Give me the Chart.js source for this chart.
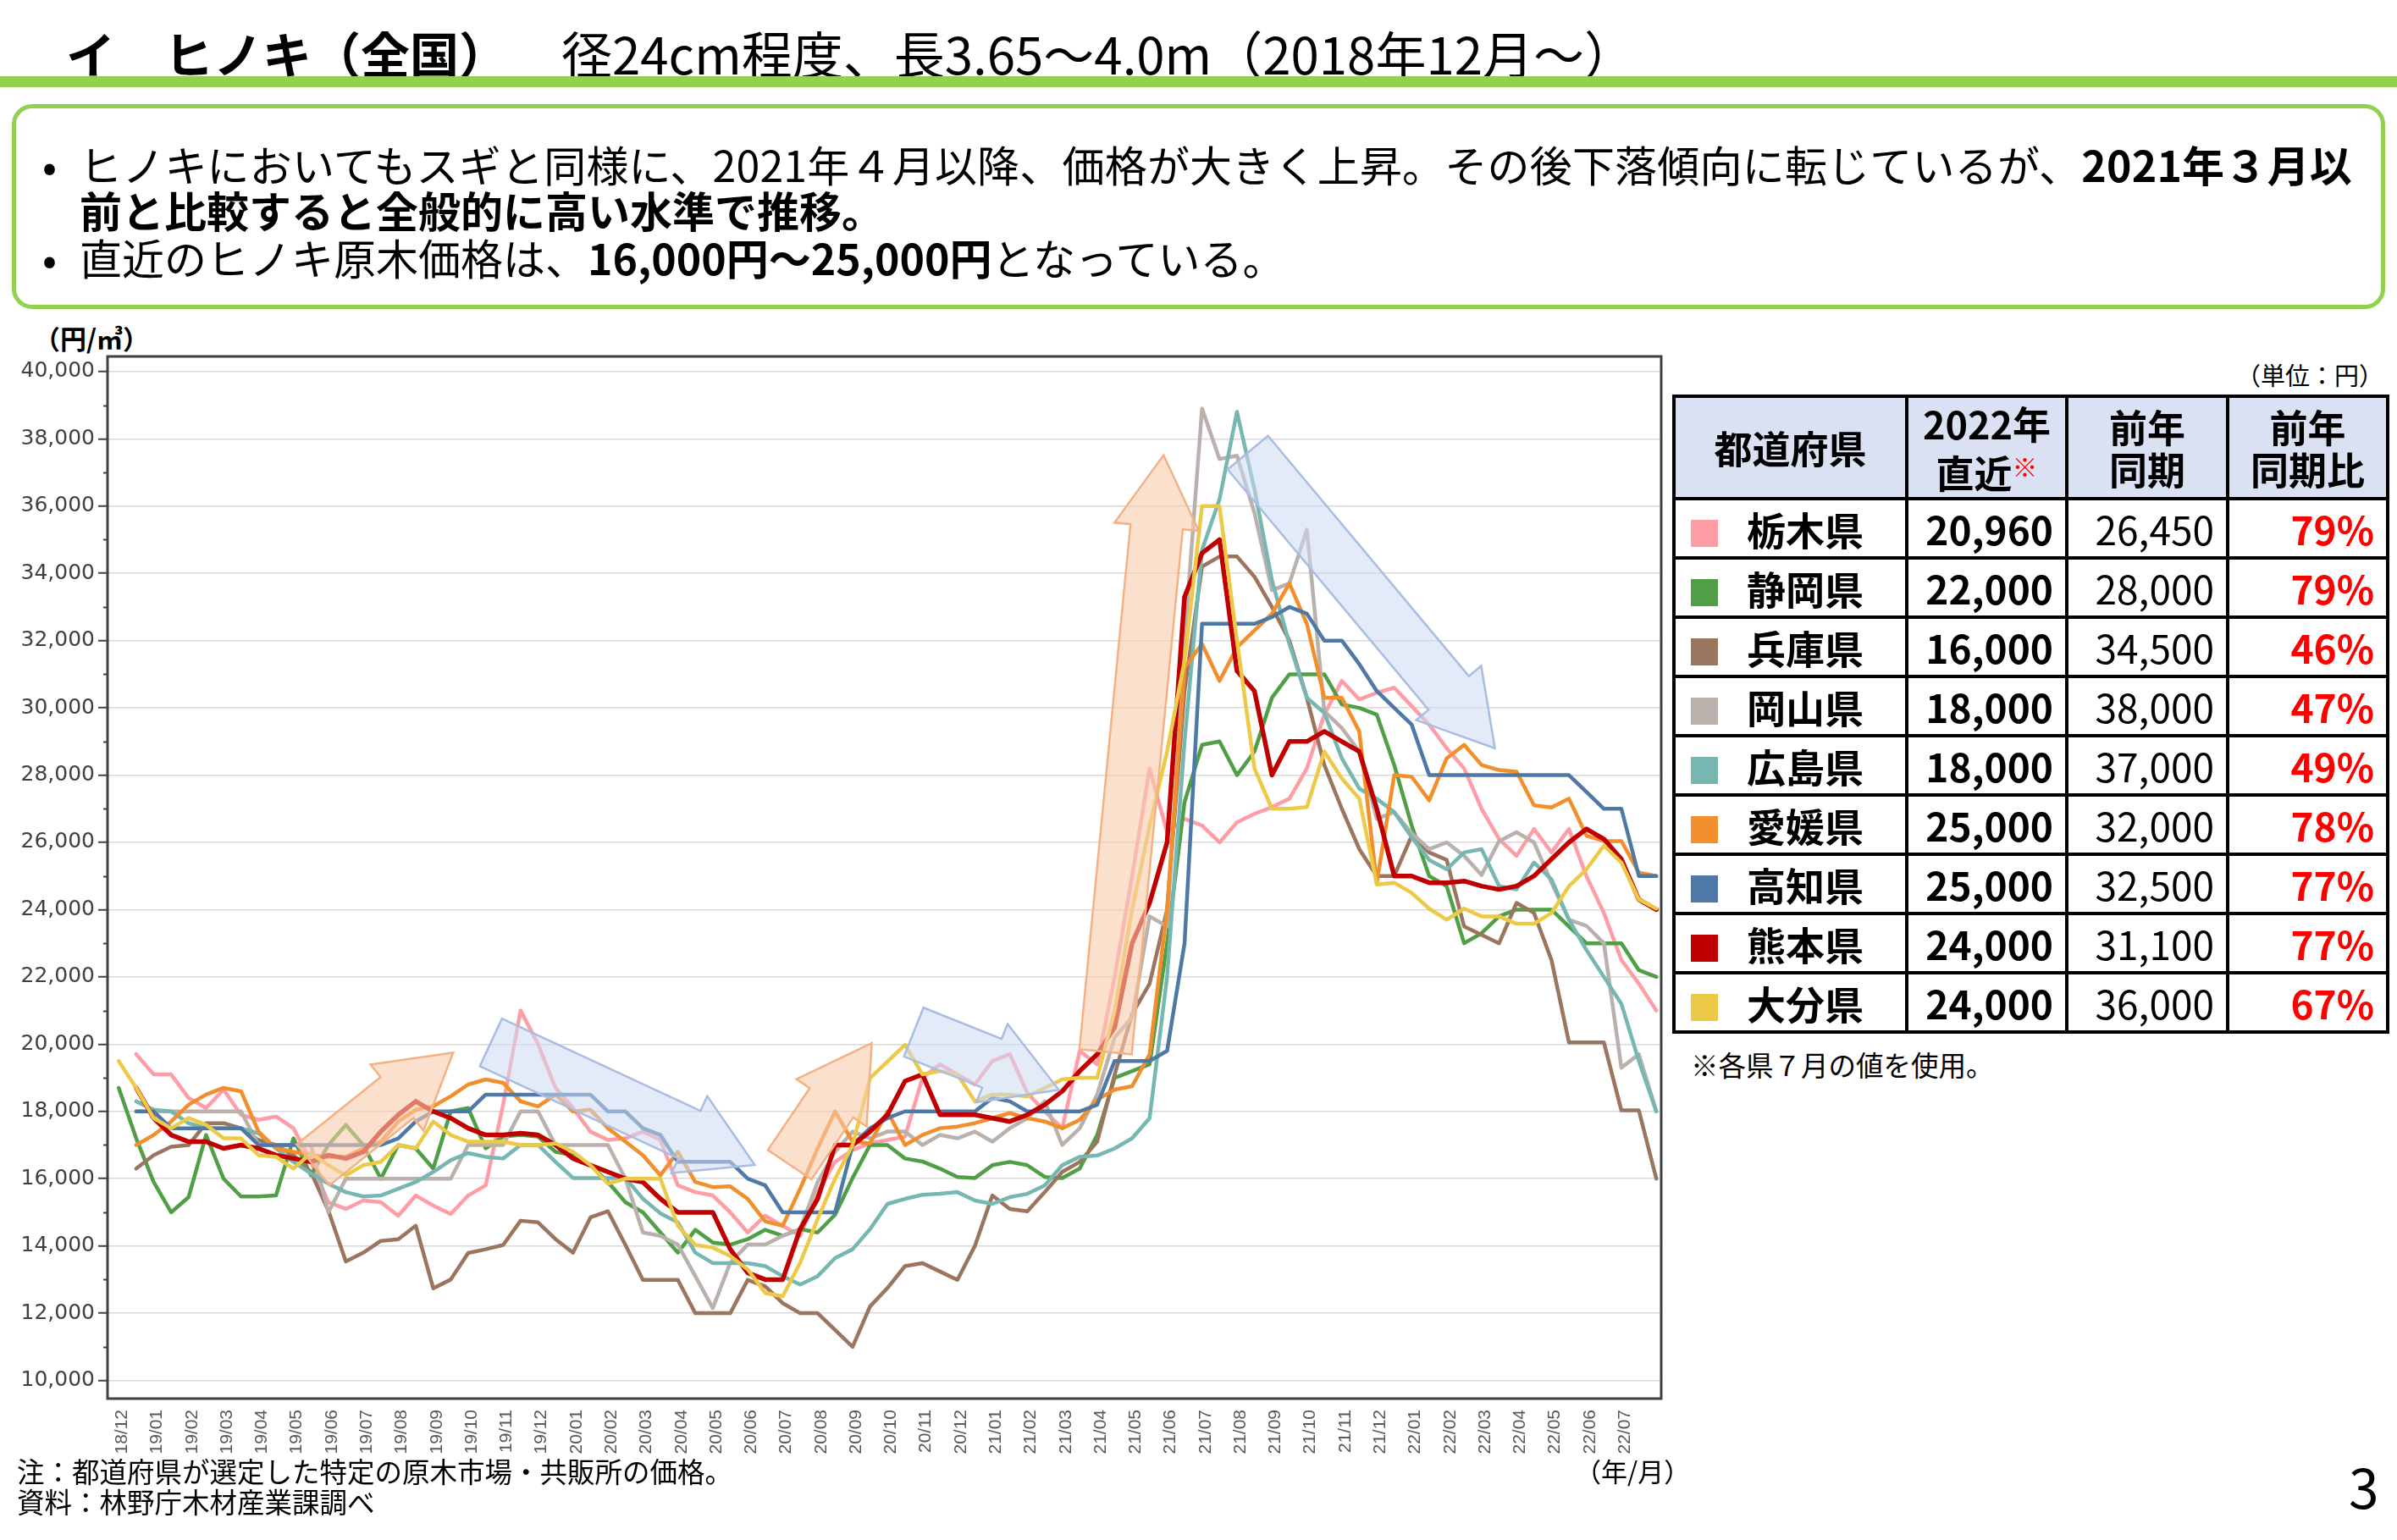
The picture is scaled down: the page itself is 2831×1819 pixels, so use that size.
<!DOCTYPE html>
<html lang="ja">
<head>
<meta charset="utf-8">
<script src="https://cdn.jsdelivr.net/npm/chart.js@4.4.0/dist/chart.umd.min.js"></script>
<style>
  body { margin:0; width:2831px; height:1819px; background:#fff; position:relative; overflow:hidden;
         font-family:'Noto Sans CJK JP', sans-serif; color:#000; }
  .abs { position:absolute; white-space:nowrap; }
  #greenBar { position:absolute; left:0; top:90px; width:2831px; height:13px; background:#92D050; }
  #msgBox { position:absolute; left:14px; top:123px; width:2803px; height:242px; box-sizing:border-box;
            border:5px solid #92D050; border-radius:24px; }
  .msg { font-size:50px; line-height:56px; }
  #priceTable { position:absolute; left:1975px; top:466px; border-collapse:collapse; table-layout:fixed; width:843px; }
  #priceTable th, #priceTable td { border:4px solid #000; padding:0; white-space:nowrap; }
  #priceTable th { background:#D9E1F2; height:117px; font-size:45px; font-weight:bold; line-height:50px; text-align:center; }
  #priceTable td { height:66px; font-size:46px; line-height:60px; }
  #priceTable td.pref { font-weight:bold; padding-left:18px; }
  #priceTable .sw { display:inline-block; width:32px; height:32px; margin-right:34px; vertical-align:-2px; }
  #priceTable td.num { text-align:right; padding-right:14px; }
  #priceTable td.bold { font-weight:bold; }
  #priceTable td.pct { color:#FF0000; font-weight:bold; }
</style>
</head>
<body>

<div class="abs" style="left:78px; top:28px; font-size:58px; line-height:68px; font-weight:bold;">イ　ヒノキ（全国）</div>
<div class="abs" style="left:663px; top:28px; font-size:60px; line-height:68px;">径24cm程度、長3.65～4.0m（2018年12月～）</div>
<div id="greenBar"></div>
<div id="msgBox"></div>
<div class="abs msg" style="left:50px; top:165px;">•</div>
<div class="abs msg" style="left:94px; top:165px; letter-spacing:0.2px;">ヒノキにおいてもスギと同様に、2021年４月以降、価格が大きく上昇。その後下落傾向に転じているが、<b>2021年３月以</b></div>
<div class="abs msg" style="left:94px; top:219px;"><b>前と比較すると全般的に高い水準で推移。</b></div>
<div class="abs msg" style="left:50px; top:275px;">•</div>
<div class="abs msg" style="left:94px; top:275px;">直近のヒノキ原木価格は、<b>16,000円～25,000円</b>となっている。</div>

<div class="abs" style="left:40px; top:380px; font-size:31px; line-height:38px; font-weight:bold;">（円/㎥）</div>

<div id="chartBox" style="position:absolute; left:0; top:400px; width:1990px; height:1330px;">
  <canvas id="hinokiChart" width="1990" height="1330"></canvas>
</div>

<div class="abs" style="left:1860px; top:1717px; font-size:31px; line-height:40px;">（年/月）</div>
<div class="abs" style="left:20px; top:1716px; font-size:32.5px; line-height:42px;">注：都道府県が選定した特定の原木市場・共販所の価格。</div>
<div class="abs" style="left:20px; top:1752px; font-size:32.5px; line-height:42px;">資料：林野庁木材産業課調べ</div>
<div class="abs" style="left:2774px; top:1716px; font-size:64px; line-height:76px;">3</div>

<div class="abs" style="right:16px; top:423px; font-size:29px; line-height:38px;">（単位：円）</div>
<table id="priceTable">
  <colgroup><col style="width:275px"><col style="width:189px"><col style="width:190px"><col style="width:189px"></colgroup>
  <thead><tr>
    <th>都道府県</th>
    <th>2022年<br>直近<span style="color:#FF0000; font-size:30px; vertical-align:14px;">※</span></th>
    <th>前年<br>同期</th>
    <th>前年<br>同期比</th>
  </tr></thead>
  <tbody></tbody>
</table>
<div class="abs" style="left:1997px; top:1236px; font-size:32.5px; line-height:42px;">※各県７月の値を使用。</div>

<script>
// month labels on the x axis (one tick per month)
const months = ['18/12',
  '19/01','19/02','19/03','19/04','19/05','19/06','19/07','19/08','19/09','19/10','19/11','19/12',
  '20/01','20/02','20/03','20/04','20/05','20/06','20/07','20/08','20/09','20/10','20/11','20/12',
  '21/01','21/02','21/03','21/04','21/05','21/06','21/07','21/08','21/09','21/10','21/11','21/12',
  '22/01','22/02','22/03','22/04','22/05','22/06','22/07'];
const yTicks = [10000, 12000, 14000, 16000, 18000, 20000, 22000, 24000, 26000, 28000, 30000, 32000, 34000, 36000, 38000, 40000];

// prices (円/㎥), two readings per month, first one just before the month tick
const FIRST_READING = -0.1;
const READING_STEP = 0.5;

const tochigi = [
  null, 19700, 19100, 19100, 18400, 18100, 18650, 17900, 17750, 17850,
  17500, 16500, 15300, 15100, 15350, 15300, 14900, 15500, 15200, 14950,
  15500, 15800, 18200, 21000, 20000, 18700, 18100, 17400, 17150, 17200,
  17400, 17150, 15800, 15600, 15500, 15000, 14400, 14900, 14600, 14300,
  15600, 16500, 16850, 17050, 17150, 17250, 19000, 19400, 19100, 18800,
  19500, 19700, 18550, 18000, 17500, 19800, 19400, 22000, 25000, 28200,
  26300, 26700, 26500, 26000, 26600, 26850, 27050, 27300, 28200, 29800,
  30800, 30250, 30450, 30600, 30050, 29500, 28800, 28200, 27000, 26100,
  25600, 26400, 25700, 26400, 25000, 23900, 22500, 21800, 21000];
const shizuoka = [
  18700, 17200, 15900, 15000, 15450, 17300, 16000, 15470, 15470, 15500,
  17200, 16100, 17000, 17600, 17000, 16000, 17000, 16900, 16300, 18000,
  18100, 16900, 17250, 17300, 17250, 16800, 16700, 16400, 15900, 15300,
  15000, 14400, 13800, 14480, 14100, 14040, 14200, 14480, 14300, 14500,
  14400, 14930, 16020, 17000, 17000, 16600, 16510, 16300, 16050, 16020,
  16400, 16500, 16400, 16050, 16020, 16300, 17300, 19000, 19200, 19400,
  23000, 27200, 28900, 29000, 28000, 28700, 30300, 31000, 31000, 31000,
  30100, 30000, 29800, 28300, 26500, 25000, 24700, 23000, 23300, 23800,
  24000, 24000, 24000, 23500, 23000, 23000, 23000, 22200, 22000];
const hyogo = [
  null, 16300, 16700, 16950, 17000, 17650, 17650, 17500, 17150, 17000,
  16700, 16200, 15050, 13540, 13800, 14150, 14200, 14600, 12740, 13000,
  13790, 13900, 14030, 14750, 14700, 14200, 13800, 14850, 15030, 14030,
  12990, 12990, 12990, 12000, 12000, 12000, 12990, 12800, 12300, 12000,
  12000, 11500, 11000, 12200, 12750, 13400, 13490, 13240, 12990, 14000,
  15500, 15100, 15030, 15600, 16200, 16500, 17100, 19100, 20900, 21800,
  24000, 30500, 34200, 34500, 34500, 33900, 33000, 32000, 30300, 28300,
  27000, 25800, 25000, 25000, 26200, 25700, 25480, 23500, 23250, 23000,
  24200, 23900, 22500, 20050, 20050, 20050, 18030, 18030, 16000];
const okayama = [
  null, 18000, 18000, 18000, 18000, 18000, 18000, 18000, 17000, 17000,
  17000, 17000, 15000, 16000, 16000, 16000, 16000, 16000, 16000, 16000,
  17000, 17000, 17000, 18000, 18000, 17000, 17000, 17000, 17000, 16000,
  14400, 14300, 14040, 13100, 12150, 13500, 14040, 14040, 14300, 14500,
  15900, 16800, 17400, 17200, 17400, 17400, 17000, 17300, 17200, 17400,
  17100, 17500, 17800, 18300, 17000, 17500, 18500, 20200, 20800, 23800,
  23500, 32000, 38900, 37400, 37500, 35800, 33500, 33700, 35300, 29900,
  29400, 28700, 26700, 26900, 26270, 25800, 26000, 25600, 25030, 26040,
  26300, 26000, 24800, 23700, 23520, 23000, 19300, 19700, 18000];
const hiroshima = [
  null, 18300, 18050, 18000, 17650, 17500, 17500, 17500, 17350, 16900,
  16500, 16150, 15850, 15600, 15470, 15500, 15700, 15900, 16200, 16550,
  16760, 16650, 16600, 17000, 17000, 16500, 16020, 16020, 16020, 16020,
  15400, 14970, 14700, 13800, 13490, 13490, 13490, 13400, 13100, 12850,
  13100, 13640, 13900, 14500, 15250, 15400, 15520, 15550, 15600, 15350,
  15250, 15450, 15550, 15800, 16400, 16650, 16690, 16900, 17200, 17800,
  22000, 29000, 34700, 36200, 38800, 36500, 33800, 31900, 30300, 29850,
  28500, 27600, 27300, 26900, 26150, 25480, 25200, 25700, 25800, 24700,
  24600, 25400, 24900, 23700, 22800, 22000, 21200, 19500, 18000];
const ehime = [
  null, 17000, 17300, 17700, 18200, 18500, 18700, 18600, 17400, 16900,
  16800, 16700, 16650, 16650, 16900, 17100, 17700, 18050, 18150, 18450,
  18800, 18950, 18850, 18300, 18150, 18500, 18000, 18050, 17500, 17100,
  16700, 16100, 16800, 15900, 15750, 15770, 15400, 14730, 14600, 15700,
  16900, 18000, 17100, 17050, 18000, 17000, 17300, 17500, 17550, 17650,
  17800, 17950, 17800, 17700, 17500, 17750, 18350, 18650, 18750, 19700,
  24000, 31200, 31900, 30800, 31800, 32300, 32800, 33700, 32500, 30300,
  30300, 29300, 24800, 28000, 27950, 27250, 28500, 28900, 28300, 28150,
  28100, 27100, 27040, 27300, 26200, 26040, 26040, 25100, 25000];
const kochi = [
  null, 18000, 18000, 17500, 17500, 17500, 17500, 17500, 17000, 17000,
  17000, 17000, 17000, 17000, 17000, 17000, 17200, 17700, 18000, 18000,
  18000, 18500, 18500, 18500, 18500, 18500, 18500, 18500, 18000, 18000,
  17500, 17300, 16500, 16500, 16500, 16500, 16000, 15800, 15000, 15000,
  15000, 15000, 17000, 17500, 17800, 18000, 18000, 18000, 18000, 18000,
  18400, 18300, 18000, 18000, 18000, 18000, 18200, 19500, 19500, 19500,
  19800, 23000, 32500, 32500, 32500, 32500, 32700, 33000, 32800, 32000,
  32000, 31300, 30500, 30000, 29500, 28000, 28000, 28000, 28000, 28000,
  28000, 28000, 28000, 28000, 27500, 27000, 27000, 25000, 25000];
const kumamoto = [
  null, 18700, 17800, 17300, 17100, 17100, 16900, 17000, 16900, 16700,
  16600, 16500, 16700, 16600, 16800, 17400, 17900, 18300, 18000, 17800,
  17500, 17300, 17300, 17350, 17300, 17000, 16600, 16400, 16200, 16000,
  15900, 15400, 15000, 15000, 15000, 13900, 13200, 13000, 13000, 14500,
  15400, 17000, 17000, 17400, 17900, 18900, 19100, 17900, 17900, 17900,
  17800, 17700, 17900, 18200, 18600, 19200, 19700, 20500, 23000, 24200,
  26000, 33300, 34600, 35000, 31100, 30500, 28000, 29000, 29000, 29300,
  29000, 28700, 27000, 25000, 25000, 24800, 24800, 24850, 24700, 24600,
  24700, 25000, 25500, 26000, 26400, 26100, 25500, 24300, 24000];
const oita = [
  19500, 18700, 17800, 17500, 17800, 17600, 17200, 17200, 16700, 16650,
  16300, 16750, 16400, 16100, 16400, 16500, 17000, 16900, 17700, 17300,
  17100, 17100, 17100, 17000, 17000, 17050, 16800, 16400, 15850, 16000,
  16000, 16000, 14600, 14030, 13950, 13700, 13300, 12600, 12500, 13500,
  14800, 16000, 17000, 18990, 19480, 19980, 19100, 19200, 19100, 18300,
  18500, 18500, 18450, 18700, 18950, 19000, 19000, 21000, 24000, 26500,
  28700, 31400, 36000, 36000, 32000, 28200, 27000, 27000, 27050, 28700,
  27900, 27300, 24750, 24800, 24500, 24030, 23700, 24030, 23800, 23800,
  23580, 23580, 23900, 24700, 25200, 25900, 25400, 24300, 24030];

// table on the right
const prefNames = ['栃木県', '静岡県', '兵庫県', '岡山県', '広島県', '愛媛県', '高知県', '熊本県', '大分県'];
const latestPrice = [20960, 22000, 16000, 18000, 18000, 25000, 25000, 24000, 24000];
const lastYearPrice = [26450, 28000, 34500, 38000, 37000, 32000, 32500, 31100, 36000];
const yoyRatio = [79, 79, 46, 47, 49, 78, 77, 77, 67];

// trend arrows drawn over the chart: [month, price] of tail and tip
const trendArrows = [
  { from: [5.46, 16410], to: [9.47, 19750], up: true },
  { from: [10.55, 20050], to: [18.1, 16410], up: false },
  { from: [19.1, 16415], to: [21.45, 20030], up: true },
  { from: [22.65, 20360], to: [26.8, 18640], up: false },
  { from: [28.14, 19775], to: [29.8, 37515], up: true },
  { from: [32.21, 37590], to: [39.28, 28800], up: false }
];

const series = [
  { values: tochigi, color: '#FF9DA7' },
  { values: shizuoka, color: '#509E46' },
  { values: hyogo, color: '#9C755F' },
  { values: okayama, color: '#BAB0AC' },
  { values: hiroshima, color: '#76B7B2' },
  { values: ehime, color: '#F28E2B' },
  { values: kochi, color: '#4E79A7' },
  { values: kumamoto, color: '#C00000' },
  { values: oita, color: '#EDC948' }
];

// table
var fmt = function(n) { return n.toLocaleString('en-US'); };
var tbody = document.querySelector('#priceTable tbody');
prefNames.forEach(function(name, i) {
  var tr = document.createElement('tr');
  tr.innerHTML = '<td class="pref"><span class="sw" style="background:' + series[i].color + '"></span>' + name + '</td>' +
    '<td class="num bold">' + fmt(latestPrice[i]) + '</td>' +
    '<td class="num">' + fmt(lastYearPrice[i]) + '</td>' +
    '<td class="num pct">' + yoyRatio[i] + '%</td>';
  tbody.appendChild(tr);
});

// arrows + plot frame + minor ticks
var decorations = {
  id: 'decorations',
  afterDatasetsDraw: function(chart) {
    var ctx = chart.ctx, xs = chart.scales.x, ys = chart.scales.y;
    var shaft = 62, headW = 100, headL = 85;
    ctx.save();
    trendArrows.forEach(function(a) {
      var x0 = xs.getPixelForValue(a.from[0]), y0 = ys.getPixelForValue(a.from[1]);
      var x1 = xs.getPixelForValue(a.to[0]), y1 = ys.getPixelForValue(a.to[1]);
      var len = Math.hypot(x1 - x0, y1 - y0);
      var ux = (x1 - x0) / len, uy = (y1 - y0) / len;
      var nx = -uy, ny = ux;
      var hx = x1 - ux * headL, hy = y1 - uy * headL;
      ctx.beginPath();
      ctx.moveTo(x0 + nx * shaft / 2, y0 + ny * shaft / 2);
      ctx.lineTo(hx + nx * shaft / 2, hy + ny * shaft / 2);
      ctx.lineTo(hx + nx * headW / 2, hy + ny * headW / 2);
      ctx.lineTo(x1, y1);
      ctx.lineTo(hx - nx * headW / 2, hy - ny * headW / 2);
      ctx.lineTo(hx - nx * shaft / 2, hy - ny * shaft / 2);
      ctx.lineTo(x0 - nx * shaft / 2, y0 - ny * shaft / 2);
      ctx.closePath();
      ctx.fillStyle = a.up ? 'rgba(248,203,173,0.6)' : 'rgba(205,219,243,0.55)';
      ctx.strokeStyle = a.up ? '#F4B183' : '#A9BDE3';
      ctx.lineWidth = 2.5;
      ctx.fill();
      ctx.stroke();
    });
    ctx.restore();
  },
  afterDraw: function(chart) {
    var ctx = chart.ctx, area = chart.chartArea, ys = chart.scales.y;
    ctx.save();
    ctx.strokeStyle = '#404040';
    ctx.lineWidth = 2;
    for (var v = 11000; v < 40000; v += 2000) {
      var y = Math.round(ys.getPixelForValue(v)) + 0.5;
      ctx.beginPath();
      ctx.moveTo(area.left - 5, y);
      ctx.lineTo(area.left, y);
      ctx.stroke();
    }
    ctx.lineWidth = 3;
    ctx.strokeRect(area.left, area.top, area.right - area.left, area.bottom - area.top);
    ctx.restore();
  }
};

var ctx = document.getElementById('hinokiChart').getContext('2d');
window.hinokiChart = new Chart(ctx, {
  type: 'line',
  data: {
    datasets: series.map(function(s, i) {
      return {
        data: s.values.map(function(v, k) { return { x: FIRST_READING + k * READING_STEP, y: v }; }),
        borderColor: s.color,
        backgroundColor: s.color,
        borderWidth: s.color === '#C00000' ? 5.5 : 4.5,
        order: series.length - i,
        fill: false
      };
    })
  },
  options: {
    responsive: false,
    animation: false,
    devicePixelRatio: 1,
    layout: { padding: { top: 21, right: 28, left: 0, bottom: 0 } },
    elements: {
      point: { radius: 0 },
      line: { tension: 0, borderJoinStyle: 'round', borderCapStyle: 'round' }
    },
    plugins: {
      legend: { display: false },
      tooltip: { enabled: false }
    },
    scales: {
      x: {
        type: 'linear',
        min: -0.42,
        max: 44.04,
        afterBuildTicks: function(scale) {
          scale.ticks = months.map(function(m, i) { return { value: i }; });
        },
        afterFit: function(scale) { scale.height = 78; },
        grid: { display: false, drawTicks: false },
        border: { display: false },
        ticks: {
          autoSkip: false,
          minRotation: 90,
          maxRotation: 90,
          padding: 13,
          color: '#595959',
          font: { family: 'Liberation Sans', size: 21 },
          callback: function(value) { return months[value]; }
        }
      },
      y: {
        min: 9460,
        max: 40450,
        afterBuildTicks: function(scale) {
          scale.ticks = yTicks.map(function(v) { return { value: v }; });
        },
        afterFit: function(scale) { scale.width = 127; },
        grid: { color: '#D9D9D9', lineWidth: 1.5, tickColor: '#404040', tickLength: 11, tickWidth: 2 },
        border: { display: false },
        ticks: {
          padding: 4,
          color: '#404040',
          font: { family: 'DejaVu Sans', size: 25 },
          callback: function(value) { return value.toLocaleString('en-US'); }
        }
      }
    }
  },
  plugins: [decorations]
});
</script>
</body>
</html>
